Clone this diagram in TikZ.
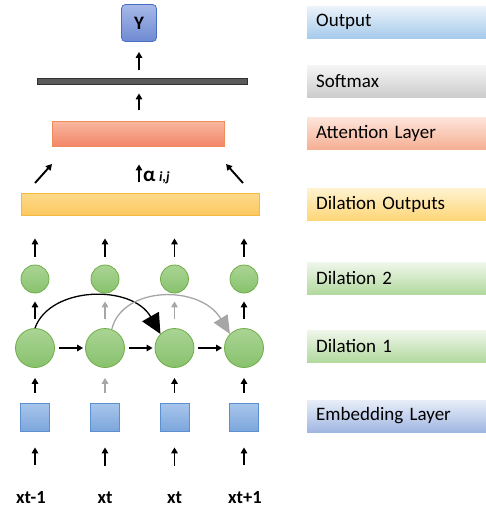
\documentclass[tikz,border=0pt]{standalone}
\usepackage{fontspec}
\setmainfont{Carlito}
\usetikzlibrary{arrows.meta,calc}
\definecolor{arrgray}{HTML}{A6A6A6}
\begin{document}
\begin{tikzpicture}[x=1pt,y=-1pt,
  arr/.style={line width=1.9pt,-{Triangle[length=6pt,width=6.5pt]}},
  garr/.style={arr,draw=arrgray},
  bigc/.style={circle,line width=0.8pt,minimum size=39pt,inner sep=0pt,top color={rgb,255:red,170;green,212;blue,148},bottom color={rgb,255:red,136;green,194;blue,110},draw={rgb,255:red,112;green,173;blue,71}},
  smc/.style={bigc,minimum size=28pt},
  sq/.style={rectangle,minimum width=29pt,minimum height=28pt,inner sep=0pt,line width=0.8pt,top color={rgb,255:red,168;green,198;blue,236},bottom color={rgb,255:red,124;green,166;blue,220},draw={rgb,255:red,91;green,143;blue,208}},
  lab/.style={rectangle,anchor=west,minimum width=179pt,minimum height=32pt,inner sep=0pt,text width=165pt,align=left,font=\fontsize{19}{21}\selectfont},
  inp/.style={font=\bfseries\fontsize{18.5}{20}\selectfont}
]
\useasboundingbox (0,0) rectangle (486,512);

% right-hand labels
\node[lab,top color={rgb,255:red,236;green,243;blue,251},bottom color={rgb,255:red,166;green,203;blue,235}] (lout) at (307,22) {\hspace*{2pt}Output};
\node[lab,top color={rgb,255:red,246;green,246;blue,246},bottom color={rgb,255:red,204;green,204;blue,204}] (lsoft) at (307,81) {\hspace*{2pt}Softmax};
\node[lab,top color={rgb,255:red,253;green,229;blue,219},bottom color={rgb,255:red,246;green,176;blue,148}] (latt) at (307,133) {\hspace*{2pt}Attention Layer};
\node[lab,top color={rgb,255:red,255;green,243;blue,208},bottom color={rgb,255:red,253;green,214;blue,120}] (ldo) at (307,204) {\hspace*{2pt}Dilation Outputs};
\node[lab,top color={rgb,255:red,240;green,247;blue,236},bottom color={rgb,255:red,178;green,217;blue,158}] (ld2) at (307,278) {\hspace*{2pt}Dilation 2};
\node[lab,top color={rgb,255:red,240;green,247;blue,236},bottom color={rgb,255:red,178;green,217;blue,158}] (ld1) at (307,346) {\hspace*{2pt}Dilation 1};
\node[lab,top color={rgb,255:red,232;green,238;blue,248},bottom color={rgb,255:red,160;green,182;blue,226}] (lemb) at (307,416) {\hspace*{2pt}Embedding Layer};

% output
\node[rectangle,rounded corners=4pt,minimum width=35pt,minimum height=37pt,inner sep=0pt,line width=0.8pt,
  top color={rgb,255:red,168;green,185;blue,232},bottom color={rgb,255:red,110;green,138;blue,210},draw={rgb,255:red,72;green,110;blue,196},
  font=\bfseries\fontsize{19}{20}\selectfont] (Y) at (139,23) {Y};
% softmax
\node[rectangle,minimum width=210pt,minimum height=6pt,inner sep=0pt,fill={rgb,255:red,90;green,90;blue,90},draw={rgb,255:red,50;green,50;blue,50},line width=0.8pt] (soft) at (142,81) {};
% attention
\node[rectangle,minimum width=172pt,minimum height=25pt,inner sep=0pt,line width=0.8pt,
  top color={rgb,255:red,248;green,184;blue,160},bottom color={rgb,255:red,243;green,134;blue,104},draw={rgb,255:red,240;green,140;blue,90}] (att) at (138,133.5) {};
% dilation outputs
\node[rectangle,minimum width=238pt,minimum height=22pt,inner sep=0pt,line width=0.8pt,
  top color={rgb,255:red,253;green,218;blue,140},bottom color={rgb,255:red,251;green,200;blue,95},draw={rgb,255:red,245;green,185;blue,66}] (dout) at (140,204) {};

% columns
\foreach \i/\x in {1/35,2/105,3/174.5,4/244}{
  \node[smc] (s\i) at (\x,279) {};
  \node[bigc] (d\i) at (\x,348) {};
  \node[sq] (e\i) at (\x,417) {};
}
\node[inp] (x1) at (31,498) {xt-1};
\node[inp] (x2) at (105,498) {xt};
\node[inp] (x3) at (174.5,498) {xt};
\node[inp] (x4) at (245,498) {xt+1};

% arrows top
\draw[arr,shorten <=8pt,shorten >=10pt] (soft.north -| Y) -- (Y.south);
\draw[arr,shorten <=11pt,shorten >=9pt] (att.north -| Y) -- (soft.south -| Y);
\draw[arr,shorten <=11pt,shorten >=18pt] (dout.north -| Y) -- (att.south -| Y);
\node[anchor=west,inner sep=0pt,font=\bfseries\fontsize{21}{22}\selectfont] (alpha) at (143,177) {α\,\textit{\fontsize{14}{15}\selectfont i,j}};
\coordinate (la) at (35,183);
\coordinate (lb) at (52,164);
\coordinate (ra) at (243,183);
\coordinate (rb) at (226,164);
\draw[arr] (la) -- (lb);
\draw[arr] (ra) -- (rb);

% column arrows
\foreach \i in {1,2,3,4}{
  \draw[arr,shorten <=8pt,shorten >=23pt] (s\i.north) -- (dout.south -| s\i);
}
\draw[arr,shorten <=9pt,shorten >=8pt] (d1.north) -- (s1.south);
\draw[garr,shorten <=9pt,shorten >=8pt] (d2.north) -- (s2.south);
\draw[garr,shorten <=9pt,shorten >=8pt] (d3.north) -- (s3.south);
\draw[arr,shorten <=9pt,shorten >=8pt] (d4.north) -- (s4.south);

\draw[arr,shorten <=4pt,shorten >=2pt] (d1.east) -- (d2.west);
\draw[arr,shorten <=4pt,shorten >=2pt] (d2.east) -- (d3.west);
\draw[arr,shorten <=4pt,shorten >=2pt] (d3.east) -- (d4.west);

\draw[arr,shorten <=10pt,shorten >=10pt] (e1.north) -- (d1.south);
\draw[garr,shorten <=10pt,shorten >=10pt] (e2.north) -- (d2.south);
\draw[arr,shorten <=10pt,shorten >=10pt] (e3.north) -- (d3.south);
\draw[arr,shorten <=10pt,shorten >=10pt] (e4.north) -- (d4.south);

\foreach \i in {1,2,3,4}{
  \draw[arr,shorten <=23pt,shorten >=16pt] (x\i.north -| e\i) -- (e\i.south);
}

% dilation skip arrows
\draw[line width=1.3pt,-{Triangle[length=20pt,width=19pt]}] (d1.north) .. controls (50,286) and (132,284) .. (d3.north west);
\draw[line width=1.3pt,draw=arrgray,-{Triangle[length=18pt,width=16pt]},arrgray] (d2.70) .. controls (122,286) and (200,284) .. (d4.north west);
\end{tikzpicture}
\end{document}
